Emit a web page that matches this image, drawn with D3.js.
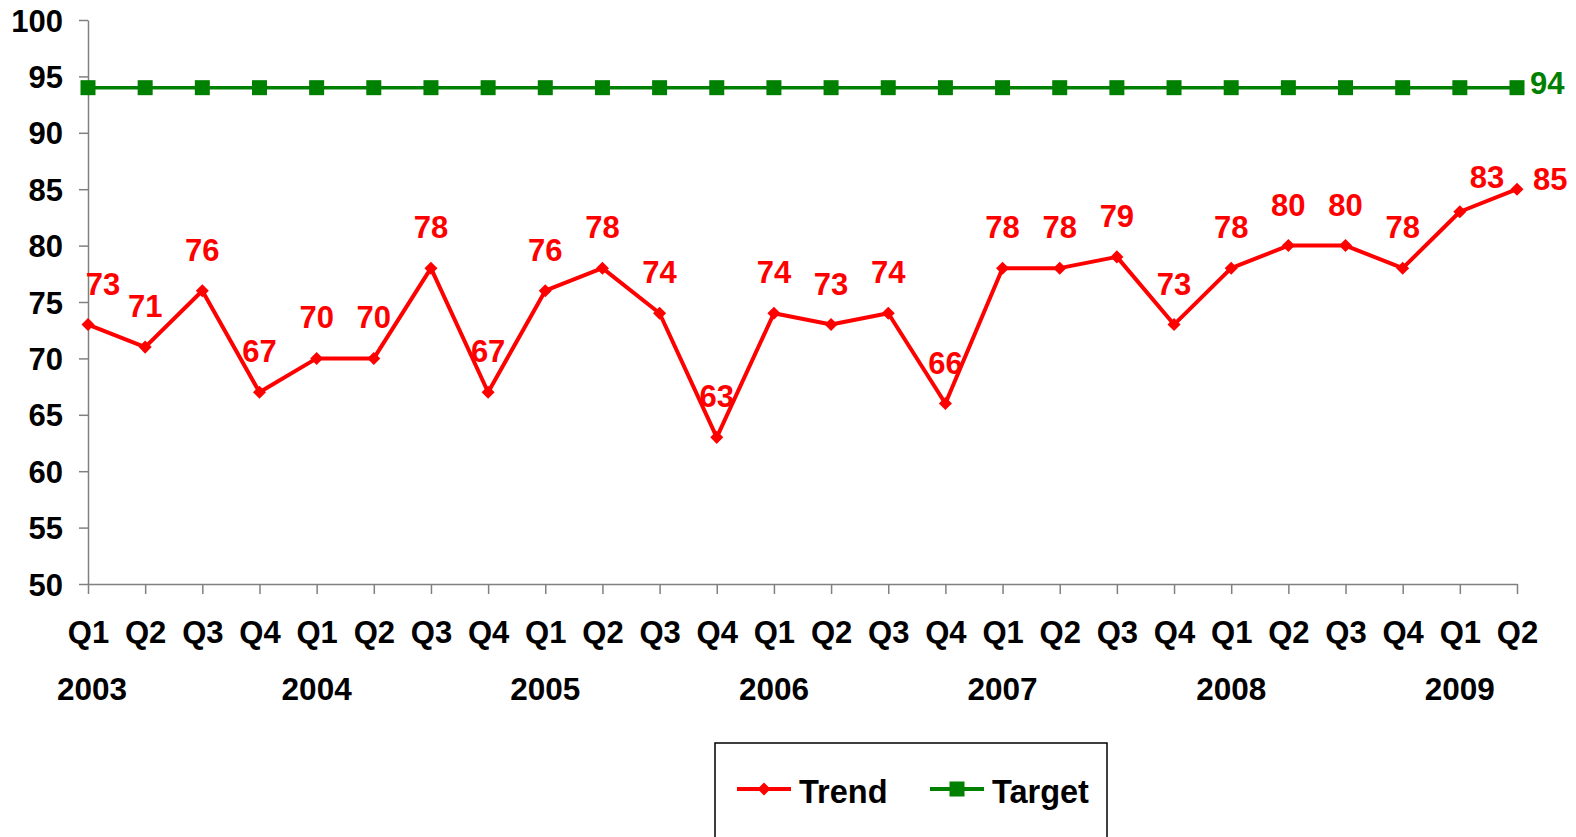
<!DOCTYPE html>
<html>

<head>
    <meta charset="utf-8">
    <style>
        body {
            margin: 0;
            background: white;
        }

        svg {
            display: block;
            font-family: 'Liberation Sans', Arial, sans-serif;
            font-weight: bold;
        }

        .axis path,
        .axis line {
            stroke: #808080;
            stroke-width: 1.5;
        }

        .axis text {
            font-size: 31px;
            font-weight: bold;
            fill: black;
        }
    </style>
</head>

<body>
    <svg width="1576" height="837"></svg>
</body>

<script src="https://d3js.org/d3.v7.min.js"></script>

<script>
    // quarters from 2003 Q1 to 2009 Q2
    let quarters = ["Q1", "Q2", "Q3", "Q4", "Q1", "Q2", "Q3", "Q4", "Q1", "Q2", "Q3", "Q4", "Q1",
        "Q2", "Q3", "Q4", "Q1", "Q2", "Q3", "Q4", "Q1", "Q2", "Q3", "Q4", "Q1", "Q2"]
    let years = ["2003", "2004", "2005", "2006", "2007", "2008", "2009"]
    let trend = [73, 71, 76, 67, 70, 70, 78, 67, 76, 78, 74, 63, 74, 73, 74, 66, 78, 78, 79, 73,
        78, 80, 80, 78, 83, 85]
    let target = [94, 94, 94, 94, 94, 94, 94, 94, 94, 94, 94, 94, 94, 94, 94, 94, 94, 94, 94, 94,
        94, 94, 94, 94, 94, 94]
    let yTicks = [50, 55, 60, 65, 70, 75, 80, 85, 90, 95, 100]

    let svg = d3.select("svg")

    let x = d3.scalePoint()
        .domain(d3.range(quarters.length))
        .range([88, 1517])

    let y = d3.scaleLinear()
        .domain([50, 100])
        .range([584, 20])

    // y axis
    svg.append("g")
        .attr("class", "axis")
        .attr("transform", "translate(88,0)")
        .call(d3.axisLeft(y).tickValues(yTicks).tickSize(9).tickPadding(16).tickSizeOuter(0))
        .call(g => g.selectAll("text").attr("dy", "0.36em"))

    // x axis, quarter labels
    svg.append("g")
        .attr("class", "axis")
        .attr("transform", "translate(0,584)")
        .call(d3.axisBottom(x).tickSize(10).tickPadding(27).tickSizeOuter(0)
            .tickFormat(i => quarters[i]))

    // year labels under Q1 of each year
    svg.append("g")
        .selectAll("text")
        .data(years)
        .join("text")
        .attr("x", (d, i) => x(i * 4) + (i == 0 ? 4 : 0))
        .attr("y", 700)
        .attr("text-anchor", "middle")
        .style("font-size", "31.5px")
        .style("fill", "black")
        .text(d => d)

    let line = d3.line()
        .x((d, i) => x(i))
        .y(d => y(d))

    // target line
    svg.append("path")
        .datum(target)
        .attr("d", line)
        .style("fill", "none")
        .style("stroke", "#008000")
        .style("stroke-width", 3.5)

    svg.append("g")
        .selectAll("rect")
        .data(target)
        .join("rect")
        .attr("x", (d, i) => x(i) - 7.5)
        .attr("y", d => y(d) - 7.5)
        .attr("width", 15)
        .attr("height", 15)
        .style("fill", "#008000")

    svg.append("text")
        .attr("x", x(target.length - 1) + 13)
        .attr("y", y(target[target.length - 1]) + 6)
        .style("font-size", "31px")
        .style("fill", "#008000")
        .text(target[target.length - 1])

    // trend line
    svg.append("path")
        .datum(trend)
        .attr("d", line)
        .style("fill", "none")
        .style("stroke", "#ff0000")
        .style("stroke-width", 4)
        .style("stroke-linejoin", "round")

    // square turned 45 degrees = diamond marker
    let diamond = d3.symbol().type(d3.symbolSquare).size(85)

    svg.append("g")
        .selectAll("path")
        .data(trend)
        .join("path")
        .attr("transform", (d, i) => "translate(" + x(i) + "," + y(d) + ") rotate(45)")
        .attr("d", diamond)
        .style("fill", "#ff0000")

    let last = trend.length - 1
    svg.append("g")
        .selectAll("text")
        .data(trend)
        .join("text")
        .attr("x", (d, i) => {
            if (i == 0) return x(i) + 15
            if (i == last - 1) return x(i) + 10
            if (i == last) return x(i) + 16
            return x(i)
        })
        .attr("y", (d, i) => {
            if (i == last - 1) return y(d) - 24
            if (i == last) return y(d) + 1
            return y(d) - 30
        })
        .attr("text-anchor", (d, i) => i >= last - 1 ? "start" : "middle")
        .style("font-size", "31px")
        .style("fill", "#ff0000")
        .text(d => d)

    // legend
    let legend = svg.append("g")

    legend.append("rect")
        .attr("x", 715)
        .attr("y", 743)
        .attr("width", 392)
        .attr("height", 130)
        .style("fill", "white")
        .style("stroke", "black")
        .style("stroke-width", 1.5)

    let legendItems = [
        { name: "Trend", color: "#ff0000", x: 737, mark: "diamond" },
        { name: "Target", color: "#008000", x: 930, mark: "square" }
    ]

    legendItems.forEach(d => {
        legend.append("line")
            .attr("x1", d.x)
            .attr("x2", d.x + 54)
            .attr("y1", 789)
            .attr("y2", 789)
            .style("stroke", d.color)
            .style("stroke-width", 4)

        if (d.mark == "diamond") {
            legend.append("path")
                .attr("transform", "translate(" + (d.x + 27) + ",789) rotate(45)")
                .attr("d", diamond)
                .style("fill", d.color)
        } else {
            legend.append("rect")
                .attr("x", d.x + 27 - 7.5)
                .attr("y", 789 - 7.5)
                .attr("width", 15)
                .attr("height", 15)
                .style("fill", d.color)
        }

        legend.append("text")
            .attr("x", d.x + 62)
            .attr("y", 803)
            .style("font-size", "32.5px")
            .style("fill", "black")
            .text(d.name)
    })
</script>

</html>
